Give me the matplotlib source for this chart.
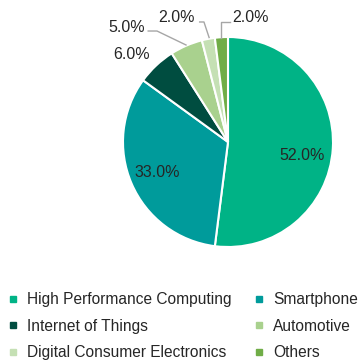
import matplotlib
matplotlib.use("Agg")
import matplotlib.pyplot as plt
from matplotlib.lines import Line2D

plt.rcParams['font.family'] = ['Liberation Sans', 'DejaVu Sans']

categories = ["High Performance Computing", "Smartphone", "Internet of Things",
              "Automotive", "Digital Consumer Electronics", "Others"]
shares = [52.0, 33.0, 6.0, 5.0, 2.0, 2.0]
colors = ["#00B386", "#009B9B", "#004D40", "#A9D18E", "#C5E0B4", "#70AD47"]
text_color = "#262626"

W, H = 359, 363
fig = plt.figure(figsize=(W / 100, H / 100), dpi=100)

# pie centred at (228, 142) px with radius 105 px
cx, cy, r = 228, 142, 105
xl, xr = -1.5, 1.2
yb, yt = -1.0, 1.35
left = cx + xl * r
bottom = H - (cy - yb * r)
ax = fig.add_axes([left / W, bottom / H, (xr - xl) * r / W, (yt - yb) * r / H])

wedges, _ = ax.pie(shares, colors=colors, startangle=90, counterclock=False,
                   radius=1, wedgeprops=dict(edgecolor="white", linewidth=1.5))
ax.set_xlim(xl, xr)
ax.set_ylim(yb, yt)
ax.set_aspect("auto")
ax.axis("off")

fs = 11.5
fmt = "{:.1f}%"
# inside labels
ax.text(0.705, -0.133, fmt.format(shares[0]), ha="center", va="center", fontsize=fs, color=text_color)
ax.text(-0.676, -0.295, fmt.format(shares[1]), ha="center", va="center", fontsize=fs, color=text_color)
# outside labels
ax.text(-0.915, 0.829, fmt.format(shares[2]), ha="center", va="center", fontsize=fs, color=text_color)

lc = "#A6A6A6"
ax.text(-0.962, 1.086, fmt.format(shares[3]), ha="center", va="center", fontsize=fs, color=text_color)
ax.plot([-0.76, -0.676, -0.40], [1.057, 1.057, 0.924], color=lc, lw=1)

ax.text(-0.495, 1.181, fmt.format(shares[4]), ha="center", va="center", fontsize=fs, color=text_color)
ax.plot([-0.27, -0.229, -0.18], [1.143, 1.143, 0.995], color=lc, lw=1)

ax.text(0.21, 1.181, fmt.format(shares[5]), ha="center", va="center", fontsize=fs, color=text_color)
ax.plot([0.015, -0.067, -0.067], [1.143, 1.143, 0.995], color=lc, lw=1)

# legend laid out row-wise across two columns
lfs = 11.2
order = [0, 2, 4, 1, 3, 5]
handles = [Line2D([], [], marker="s", linestyle="none", markersize=4.5,
                  markerfacecolor=colors[i], markeredgecolor=colors[i]) for i in order]
labels = [categories[i] for i in order]
fig.legend(handles, labels, ncol=2, frameon=False, fontsize=lfs,
           loc="upper left", bbox_to_anchor=(2.1 / W, 1 - 286 / H),
           handlelength=0.6, handletextpad=0.58, labelspacing=0.74,
           columnspacing=1.5, borderaxespad=0, labelcolor=text_color)

fig.savefig("out.png", dpi=100)
